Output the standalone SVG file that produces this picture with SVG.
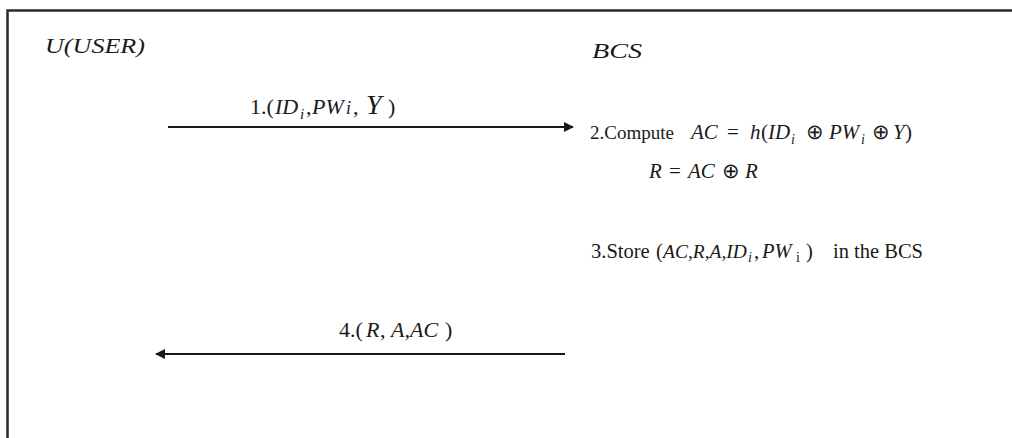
<svg xmlns="http://www.w3.org/2000/svg" width="1012" height="438" viewBox="0 0 1012 438">
<style>
text{font-family:"Liberation Serif","Times New Roman",serif;fill:#1a1a1a}
.it{font-style:italic}
.line{stroke:#1a1a1a;stroke-width:2;fill:none}
</style>
<defs>
<marker id="ah" viewBox="0 0 10 10" refX="9" refY="5" markerWidth="5" markerHeight="5" orient="auto-start-reverse" markerUnits="strokeWidth">
<path d="M0,0 L10,5 L0,10 z" fill="#1a1a1a"/>
</marker>
</defs>
<rect width="1012" height="438" fill="#fff"/>
<path d="M7.5,438 V10.5 H1012" stroke="#2a2a2a" stroke-width="2.5" fill="none"/>
<g id="user"><text x="45" y="53" class="it" font-size="22" textLength="100" lengthAdjust="spacingAndGlyphs">U(USER)</text></g>
<g id="bcs"><text x="592" y="58" class="it" font-size="22" textLength="50" lengthAdjust="spacingAndGlyphs">BCS</text></g>
<g id="connectors">
<line class="line" x1="168" y1="127" x2="573" y2="127" marker-end="url(#ah)"/>
<line class="line" x1="565" y1="354" x2="156" y2="354" marker-end="url(#ah)"/>
</g>
<g id="msg1"><text y="114" font-size="22"><tspan x="250">1.(</tspan><tspan x="275" class="it">ID</tspan><tspan x="300" dy="5" class="it" font-size="15">i</tspan><tspan x="306" dy="-5">,</tspan><tspan x="312" class="it">PW</tspan><tspan x="346" class="it" font-size="18">i</tspan><tspan x="353">,</tspan><tspan x="366" class="it" font-size="28">Y</tspan><tspan x="388">)</tspan></text></g>
<g id="step2">
<text y="139" font-size="21"><tspan x="590" font-size="19">2.Compute</tspan><tspan x="691" class="it">AC</tspan><tspan x="727">=</tspan><tspan x="750" class="it">h</tspan><tspan x="761">(</tspan><tspan x="768" class="it">ID</tspan><tspan x="791" dy="5" class="it" font-size="14">i</tspan><tspan x="806" dy="-5">⊕</tspan><tspan x="829" class="it">PW</tspan><tspan x="861" dy="5" class="it" font-size="14">i</tspan><tspan x="872" dy="-5">⊕</tspan><tspan x="893" class="it">Y</tspan><tspan x="905">)</tspan></text>
<text y="178" font-size="21"><tspan x="649" class="it">R</tspan><tspan x="669">=</tspan><tspan x="688" class="it">AC</tspan><tspan x="722">⊕</tspan><tspan x="745" class="it">R</tspan></text>
</g>
<g id="step3"><text y="258" font-size="20.5"><tspan x="591">3.Store</tspan><tspan x="656">(</tspan><tspan x="663" class="it" font-size="19.5">AC,R,A,ID</tspan><tspan x="748" dy="4" class="it" font-size="14">i</tspan><tspan x="754" dy="-4">,</tspan><tspan x="762" class="it">PW</tspan><tspan x="796" dy="4" font-size="14">i</tspan><tspan x="806" dy="-4">)</tspan><tspan x="833">in the BCS</tspan></text></g>
<g id="msg4"><text y="337" font-size="22"><tspan x="339">4.(</tspan><tspan x="366" class="it">R</tspan><tspan x="380">,</tspan><tspan x="391" class="it">A,AC</tspan><tspan x="445">)</tspan></text></g>
</svg>
